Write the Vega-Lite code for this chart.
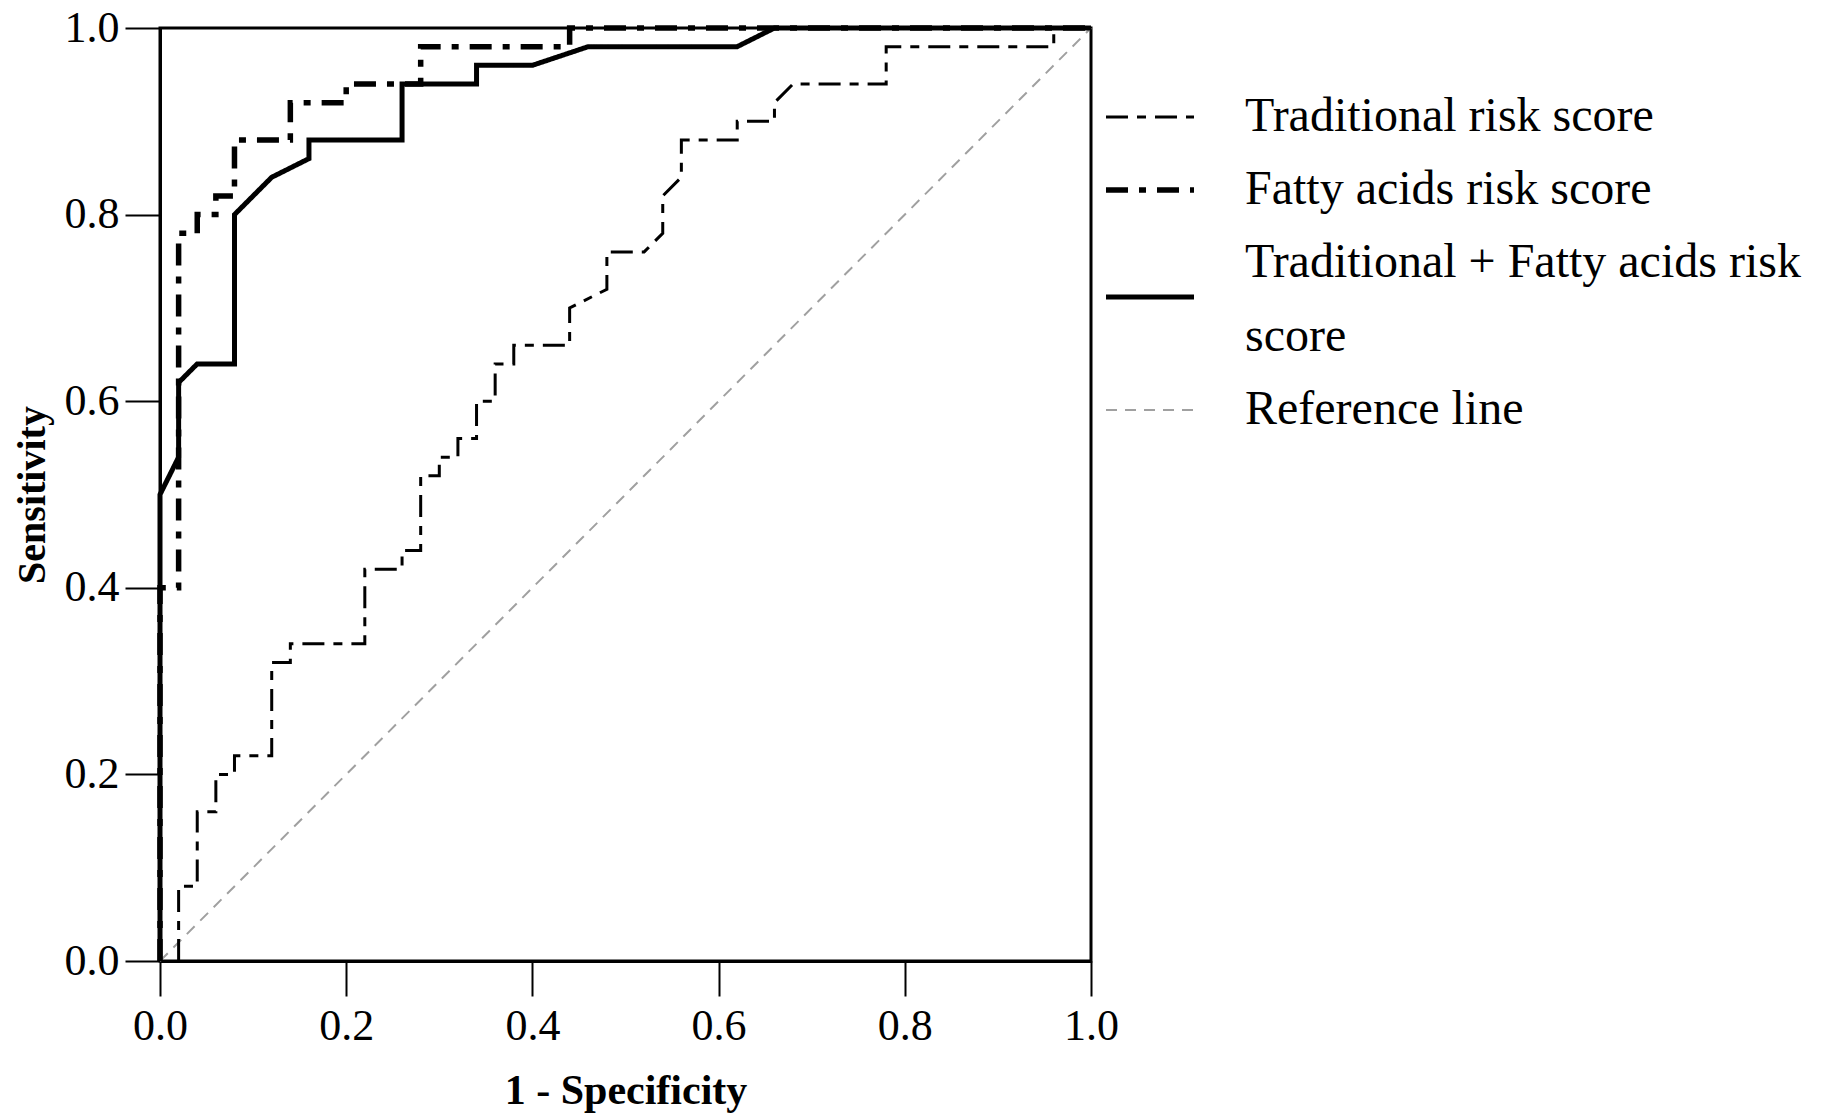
{
  "$schema": "https://vega.github.io/schema/vega-lite/v6.json",
  "width": 931,
  "height": 933,
  "autosize": {"type": "none"},
  "padding": {"left": 160, "top": 28, "right": 740, "bottom": 156},
  "background": "white",
  "config": {
    "view": {"stroke": "black", "strokeWidth": 3},
    "font": "Liberation Serif",
    "style": {"guide-label": {"lineHeight": 74}},
    "axis": {
      "grid": false,
      "domainColor": "black",
      "domainWidth": 3,
      "tickColor": "black",
      "tickWidth": 2,
      "tickSize": 35,
      "labelFont": "Liberation Serif",
      "labelFontSize": 44,
      "labelColor": "black",
      "titleFont": "Liberation Serif",
      "titleFontWeight": "bold",
      "titleColor": "black"
    }
  },
  "data": {
    "values": [
      {"series": "Reference line", "i": 0, "x": 0, "y": 0},
      {"series": "Reference line", "i": 1, "x": 1, "y": 1},

      {"series": "Traditional risk score", "i": 0, "x": 0.02, "y": 0},
      {"series": "Traditional risk score", "i": 1, "x": 0.02, "y": 0.08},
      {"series": "Traditional risk score", "i": 2, "x": 0.04, "y": 0.08},
      {"series": "Traditional risk score", "i": 3, "x": 0.04, "y": 0.16},
      {"series": "Traditional risk score", "i": 4, "x": 0.06, "y": 0.16},
      {"series": "Traditional risk score", "i": 5, "x": 0.06, "y": 0.20},
      {"series": "Traditional risk score", "i": 6, "x": 0.08, "y": 0.20},
      {"series": "Traditional risk score", "i": 7, "x": 0.08, "y": 0.22},
      {"series": "Traditional risk score", "i": 8, "x": 0.12, "y": 0.22},
      {"series": "Traditional risk score", "i": 9, "x": 0.12, "y": 0.32},
      {"series": "Traditional risk score", "i": 10, "x": 0.14, "y": 0.32},
      {"series": "Traditional risk score", "i": 11, "x": 0.14, "y": 0.34},
      {"series": "Traditional risk score", "i": 12, "x": 0.22, "y": 0.34},
      {"series": "Traditional risk score", "i": 13, "x": 0.22, "y": 0.42},
      {"series": "Traditional risk score", "i": 14, "x": 0.26, "y": 0.42},
      {"series": "Traditional risk score", "i": 15, "x": 0.26, "y": 0.44},
      {"series": "Traditional risk score", "i": 16, "x": 0.28, "y": 0.44},
      {"series": "Traditional risk score", "i": 17, "x": 0.28, "y": 0.52},
      {"series": "Traditional risk score", "i": 18, "x": 0.30, "y": 0.52},
      {"series": "Traditional risk score", "i": 19, "x": 0.30, "y": 0.54},
      {"series": "Traditional risk score", "i": 20, "x": 0.32, "y": 0.54},
      {"series": "Traditional risk score", "i": 21, "x": 0.32, "y": 0.56},
      {"series": "Traditional risk score", "i": 22, "x": 0.34, "y": 0.56},
      {"series": "Traditional risk score", "i": 23, "x": 0.34, "y": 0.60},
      {"series": "Traditional risk score", "i": 24, "x": 0.36, "y": 0.60},
      {"series": "Traditional risk score", "i": 25, "x": 0.36, "y": 0.64},
      {"series": "Traditional risk score", "i": 26, "x": 0.38, "y": 0.64},
      {"series": "Traditional risk score", "i": 27, "x": 0.38, "y": 0.66},
      {"series": "Traditional risk score", "i": 28, "x": 0.44, "y": 0.66},
      {"series": "Traditional risk score", "i": 29, "x": 0.44, "y": 0.70},
      {"series": "Traditional risk score", "i": 30, "x": 0.48, "y": 0.72},
      {"series": "Traditional risk score", "i": 31, "x": 0.48, "y": 0.76},
      {"series": "Traditional risk score", "i": 32, "x": 0.52, "y": 0.76},
      {"series": "Traditional risk score", "i": 33, "x": 0.54, "y": 0.78},
      {"series": "Traditional risk score", "i": 34, "x": 0.54, "y": 0.82},
      {"series": "Traditional risk score", "i": 35, "x": 0.56, "y": 0.84},
      {"series": "Traditional risk score", "i": 36, "x": 0.56, "y": 0.88},
      {"series": "Traditional risk score", "i": 37, "x": 0.62, "y": 0.88},
      {"series": "Traditional risk score", "i": 38, "x": 0.62, "y": 0.90},
      {"series": "Traditional risk score", "i": 39, "x": 0.66, "y": 0.90},
      {"series": "Traditional risk score", "i": 40, "x": 0.66, "y": 0.92},
      {"series": "Traditional risk score", "i": 41, "x": 0.68, "y": 0.94},
      {"series": "Traditional risk score", "i": 42, "x": 0.78, "y": 0.94},
      {"series": "Traditional risk score", "i": 43, "x": 0.78, "y": 0.98},
      {"series": "Traditional risk score", "i": 44, "x": 0.96, "y": 0.98},
      {"series": "Traditional risk score", "i": 45, "x": 0.96, "y": 1.0},
      {"series": "Traditional risk score", "i": 46, "x": 1.0, "y": 1.0},

      {"series": "Fatty acids risk score", "i": 0, "x": 0, "y": 0},
      {"series": "Fatty acids risk score", "i": 1, "x": 0, "y": 0.40},
      {"series": "Fatty acids risk score", "i": 2, "x": 0.02, "y": 0.40},
      {"series": "Fatty acids risk score", "i": 3, "x": 0.02, "y": 0.78},
      {"series": "Fatty acids risk score", "i": 4, "x": 0.04, "y": 0.78},
      {"series": "Fatty acids risk score", "i": 5, "x": 0.04, "y": 0.80},
      {"series": "Fatty acids risk score", "i": 6, "x": 0.06, "y": 0.80},
      {"series": "Fatty acids risk score", "i": 7, "x": 0.06, "y": 0.82},
      {"series": "Fatty acids risk score", "i": 8, "x": 0.08, "y": 0.82},
      {"series": "Fatty acids risk score", "i": 9, "x": 0.08, "y": 0.88},
      {"series": "Fatty acids risk score", "i": 10, "x": 0.14, "y": 0.88},
      {"series": "Fatty acids risk score", "i": 11, "x": 0.14, "y": 0.92},
      {"series": "Fatty acids risk score", "i": 12, "x": 0.20, "y": 0.92},
      {"series": "Fatty acids risk score", "i": 13, "x": 0.20, "y": 0.94},
      {"series": "Fatty acids risk score", "i": 14, "x": 0.28, "y": 0.94},
      {"series": "Fatty acids risk score", "i": 15, "x": 0.28, "y": 0.98},
      {"series": "Fatty acids risk score", "i": 16, "x": 0.44, "y": 0.98},
      {"series": "Fatty acids risk score", "i": 17, "x": 0.44, "y": 1.0},
      {"series": "Fatty acids risk score", "i": 18, "x": 1.0, "y": 1.0},

      {"series": "Traditional + Fatty acids risk score", "i": 0, "x": 0, "y": 0},
      {"series": "Traditional + Fatty acids risk score", "i": 1, "x": 0, "y": 0.50},
      {"series": "Traditional + Fatty acids risk score", "i": 2, "x": 0.02, "y": 0.54},
      {"series": "Traditional + Fatty acids risk score", "i": 3, "x": 0.02, "y": 0.62},
      {"series": "Traditional + Fatty acids risk score", "i": 4, "x": 0.04, "y": 0.64},
      {"series": "Traditional + Fatty acids risk score", "i": 5, "x": 0.08, "y": 0.64},
      {"series": "Traditional + Fatty acids risk score", "i": 6, "x": 0.08, "y": 0.80},
      {"series": "Traditional + Fatty acids risk score", "i": 7, "x": 0.12, "y": 0.84},
      {"series": "Traditional + Fatty acids risk score", "i": 8, "x": 0.16, "y": 0.86},
      {"series": "Traditional + Fatty acids risk score", "i": 9, "x": 0.16, "y": 0.88},
      {"series": "Traditional + Fatty acids risk score", "i": 10, "x": 0.26, "y": 0.88},
      {"series": "Traditional + Fatty acids risk score", "i": 11, "x": 0.26, "y": 0.94},
      {"series": "Traditional + Fatty acids risk score", "i": 12, "x": 0.34, "y": 0.94},
      {"series": "Traditional + Fatty acids risk score", "i": 13, "x": 0.34, "y": 0.96},
      {"series": "Traditional + Fatty acids risk score", "i": 14, "x": 0.40, "y": 0.96},
      {"series": "Traditional + Fatty acids risk score", "i": 15, "x": 0.46, "y": 0.98},
      {"series": "Traditional + Fatty acids risk score", "i": 16, "x": 0.62, "y": 0.98},
      {"series": "Traditional + Fatty acids risk score", "i": 17, "x": 0.66, "y": 1.0},
      {"series": "Traditional + Fatty acids risk score", "i": 18, "x": 1.0, "y": 1.0}
    ]
  },
  "mark": {"type": "line", "clip": false, "strokeCap": "butt", "strokeJoin": "miter"},
  "encoding": {
    "x": {
      "field": "x", "type": "quantitative",
      "scale": {"domain": [0, 1], "nice": false, "zero": false},
      "axis": {"values": [0, 0.2, 0.4, 0.6, 0.8, 1.0], "format": ".1f", "title": "1 - Specificity",
               "titleFontSize": 42, "labelPadding": 8, "titlePadding": 22, "labelFlush": false}
    },
    "y": {
      "field": "y", "type": "quantitative",
      "scale": {"domain": [0, 1], "nice": false, "zero": false},
      "axis": {"values": [0, 0.2, 0.4, 0.6, 0.8, 1.0], "format": ".1f", "title": "Sensitivity",
               "titleFontSize": 40, "labelPadding": 6, "titlePadding": 12, "labelFlush": false}
    },
    "order": {"field": "i", "type": "quantitative"},
    "color": {
      "field": "series", "type": "nominal",
      "scale": {
        "domain": ["Traditional risk score", "Fatty acids risk score", "Traditional + Fatty acids risk score", "Reference line"],
        "range": ["#000000", "#000000", "#000000", "#a0a0a0"]
      },
      "legend": {
        "title": null,
        "orient": "none",
        "legendX": 966,
        "legendY": 65,
        "padding": 0,
        "symbolType": "stroke",
        "symbolSize": 7744,
        "labelFont": "Liberation Serif",
        "labelFontSize": 48,
        "labelColor": "black",
        "labelLimit": 900,
        "labelOffset": 71,
        "rowPadding": 25,
        "labelExpr": "datum.label === 'Traditional + Fatty acids risk score' ? ['Traditional + Fatty acids risk', 'score'] : datum.label",
        "encode": {
          "symbols": {
            "update": {
              "shape": {"signal": "datum.value === 'Traditional + Fatty acids risk score' ? 'M-1,0.77H1' : 'stroke'"},
              "strokeWidth": {"signal": "datum.value === 'Fatty acids risk score' ? 5.5 : datum.value === 'Traditional + Fatty acids risk score' ? 5 : datum.value === 'Reference line' ? 2 : 3"}
            }
          }
        }
      }
    },
    "strokeDash": {
      "field": "series", "type": "nominal",
      "scale": {
        "domain": ["Traditional risk score", "Fatty acids risk score", "Traditional + Fatty acids risk score", "Reference line"],
        "range": [[22, 9, 9, 9], [22, 11, 7, 11], [1, 0], [11, 8]]
      }
    },
    "strokeWidth": {
      "condition": [
        {"test": "datum.series === 'Fatty acids risk score'", "value": 5.5},
        {"test": "datum.series === 'Traditional + Fatty acids risk score'", "value": 5},
        {"test": "datum.series === 'Reference line'", "value": 2}
      ],
      "value": 3
    }
  }
}
